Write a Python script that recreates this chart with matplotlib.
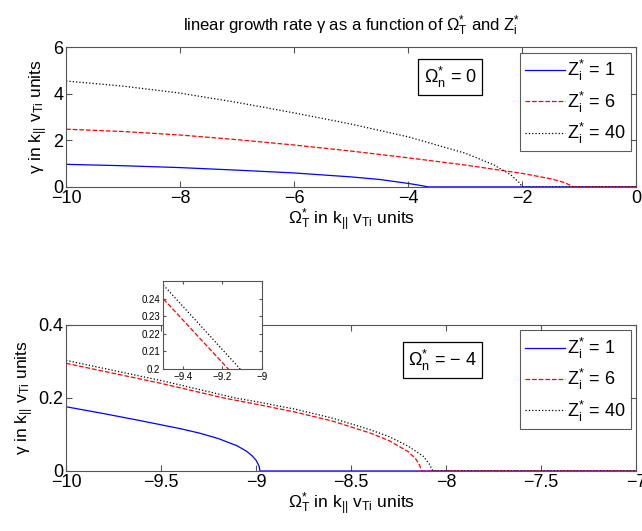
import matplotlib
matplotlib.use('Agg')
import matplotlib.pyplot as plt

plt.rcParams['font.family'] = ['Liberation Sans', 'DejaVu Sans']
plt.rcParams['mathtext.fontset'] = 'custom'
plt.rcParams['mathtext.rm'] = 'Liberation Sans'
plt.rcParams['mathtext.it'] = 'Liberation Sans'
plt.rcParams['mathtext.bf'] = 'Liberation Sans:bold'
plt.rcParams['mathtext.default'] = 'regular'

# --- oben: Omega_n* = 0 ---
top_x_z1 = [-10, -9, -8, -7, -6, -5, -4.5, -4, -3.8, -3.65, 0]
top_y_z1 = [0.97, 0.91, 0.83, 0.72, 0.6, 0.43, 0.32, 0.15, 0.07, 0.0, 0.0]
top_x_z6 = [-10, -9, -8, -7, -6, -5, -4, -3, -2, -1.5, -1.25, -1.1, 0]
top_y_z6 = [2.48, 2.38, 2.23, 2.03, 1.8, 1.54, 1.25, 0.94, 0.58, 0.35, 0.18, 0.0, 0.0]
top_x_z40 = [-10, -9, -8, -7, -6, -5, -4, -3, -2.5, -2.2, -2.05, -2.0, 0]
top_y_z40 = [4.55, 4.33, 4.03, 3.63, 3.18, 2.7, 2.15, 1.45, 0.95, 0.52, 0.18, 0.0, 0.0]

# --- unten: Omega_n* = -4 ---
bot_x_z1 = [-10, -9.8, -9.6, -9.4, -9.3, -9.2, -9.1, -9.05, -9.02, -9.0, -8.985, -8.98, -7]
bot_y_z1 = [0.176, 0.157, 0.137, 0.116, 0.104, 0.089, 0.069, 0.054, 0.041, 0.029, 0.014, 0.0, 0.0]
bot_x_z6 = [-10, -9.5, -9.17, -9.0, -8.8, -8.6, -8.4, -8.3, -8.2, -8.16, -8.14, -8.13, -7]
bot_y_z6 = [0.295, 0.24, 0.2, 0.183, 0.162, 0.137, 0.104, 0.083, 0.053, 0.033, 0.016, 0.0, 0.0]
bot_x_z40 = [-10, -9.485, -9.11, -9.0, -8.8, -8.6, -8.4, -8.3, -8.2, -8.12, -8.09, -8.07, -7]
bot_y_z40 = [0.303, 0.246, 0.2, 0.19, 0.17, 0.145, 0.113, 0.094, 0.068, 0.04, 0.02, 0.0, 0.0]

labels = [r'$Z_{i}^{*}$ = 1', r'$Z_{i}^{*}$ = 6', r'$Z_{i}^{*}$ = 40']
styles = [('#0000ff', '-'), ('#ff0000', '--'), ('black', ':')]

ylab = r'$\gamma$ in k$_{||}$ v$_{Ti}$ units'
xlab = r'$\Omega_{T}^{*}$ in k$_{||}$ v$_{Ti}$ units'


def style_axes(ax, size=13):
    for s in ax.spines.values():
        s.set_color('#555555')
        s.set_linewidth(0.8)
    ax.tick_params(direction='in', top=True, right=True, labelsize=size,
                   length=4, color='#555555', pad=2)


fig = plt.figure(figsize=(6.42, 5.31), dpi=100)

ax1 = fig.add_axes([0.103, 0.648, 0.888, 0.263])
for (x, y), (c, ls), lab in zip([(top_x_z1, top_y_z1), (top_x_z6, top_y_z6), (top_x_z40, top_y_z40)], styles, labels):
    ax1.plot(x, y, color=c, linestyle=ls, linewidth=0.9, label=lab)
ax1.set_xlim(-10, 0)
ax1.set_ylim(0, 6)
ax1.set_xticks([-10, -8, -6, -4, -2, 0])
ax1.set_yticks([0, 2, 4, 6])
ax1.set_xticklabels(['\u221210', '\u22128', '\u22126', '\u22124', '\u22122', '0'])
style_axes(ax1)
ax1.set_xlabel(xlab, fontsize=12.5, labelpad=0)
ax1.set_ylabel(ylab, fontsize=12.5, labelpad=2)
ax1.set_title(r'linear growth rate $\gamma$ as a function of $\Omega_{T}^{*}$ and $Z_{i}^{*}$',
              fontsize=12, pad=12)
leg1 = ax1.legend(loc='upper right', fontsize=13, borderaxespad=0.3, fancybox=False,
                  edgecolor='#333333', handlelength=2.2, handletextpad=0.1,
                  labelspacing=0.35, borderpad=0.3)
leg1.get_frame().set_linewidth(0.8)
ax1.text(0.674, 0.786, r'$\Omega_{n}^{*}$ = 0', transform=ax1.transAxes, fontsize=13,
         ha='center', va='center',
         bbox=dict(boxstyle='square,pad=0.3', fc='white', ec='black', lw=0.9))

ax2 = fig.add_axes([0.103, 0.113, 0.888, 0.275])
for (x, y), (c, ls), lab in zip([(bot_x_z1, bot_y_z1), (bot_x_z6, bot_y_z6), (bot_x_z40, bot_y_z40)], styles, labels):
    ax2.plot(x, y, color=c, linestyle=ls, linewidth=0.9, label=lab)
ax2.set_xlim(-10, -7)
ax2.set_ylim(0, 0.4)
ax2.set_xticks([-10, -9.5, -9, -8.5, -8, -7.5, -7])
ax2.set_xticklabels(['\u221210', '\u22129.5', '\u22129', '\u22128.5', '\u22128', '\u22127.5', '\u22127'])
ax2.set_yticks([0, 0.2, 0.4])
ax2.set_yticklabels(['0', '0.2', '0.4'])
style_axes(ax2)
ax2.set_xlabel(xlab, fontsize=12.5, labelpad=0)
ax2.set_ylabel(ylab, fontsize=12.5, labelpad=2)
leg2 = ax2.legend(loc='upper right', fontsize=13, borderaxespad=0.3, fancybox=False,
                  edgecolor='#333333', handlelength=2.2, handletextpad=0.1,
                  labelspacing=0.35, borderpad=0.3)
leg2.get_frame().set_linewidth(0.8)
ax2.text(0.66, 0.76, r'$\Omega_{n}^{*}$ = $-$ 4', transform=ax2.transAxes, fontsize=13,
         ha='center', va='center',
         bbox=dict(boxstyle='square,pad=0.3', fc='white', ec='black', lw=0.9))

# Inset (Zoom)
ax3 = fig.add_axes([0.254, 0.305, 0.154, 0.166])
for (x, y), (c, ls) in zip([(bot_x_z6, bot_y_z6), (bot_x_z40, bot_y_z40)], styles[1:]):
    ax3.plot(x, y, color=c, linestyle=ls, linewidth=0.9)
ax3.set_xlim(-9.5, -9)
ax3.set_ylim(0.2, 0.25)
ax3.set_xticks([-9.4, -9.2, -9])
ax3.set_xticklabels(['\u22129.4', '\u22129.2', '\u22129'])
ax3.set_yticks([0.2, 0.21, 0.22, 0.23, 0.24])
ax3.set_yticklabels(['0.2', '0.21', '0.22', '0.23', '0.24'])
style_axes(ax3, size=7)
ax3.tick_params(length=2)

fig.savefig('out.png', dpi=100)
